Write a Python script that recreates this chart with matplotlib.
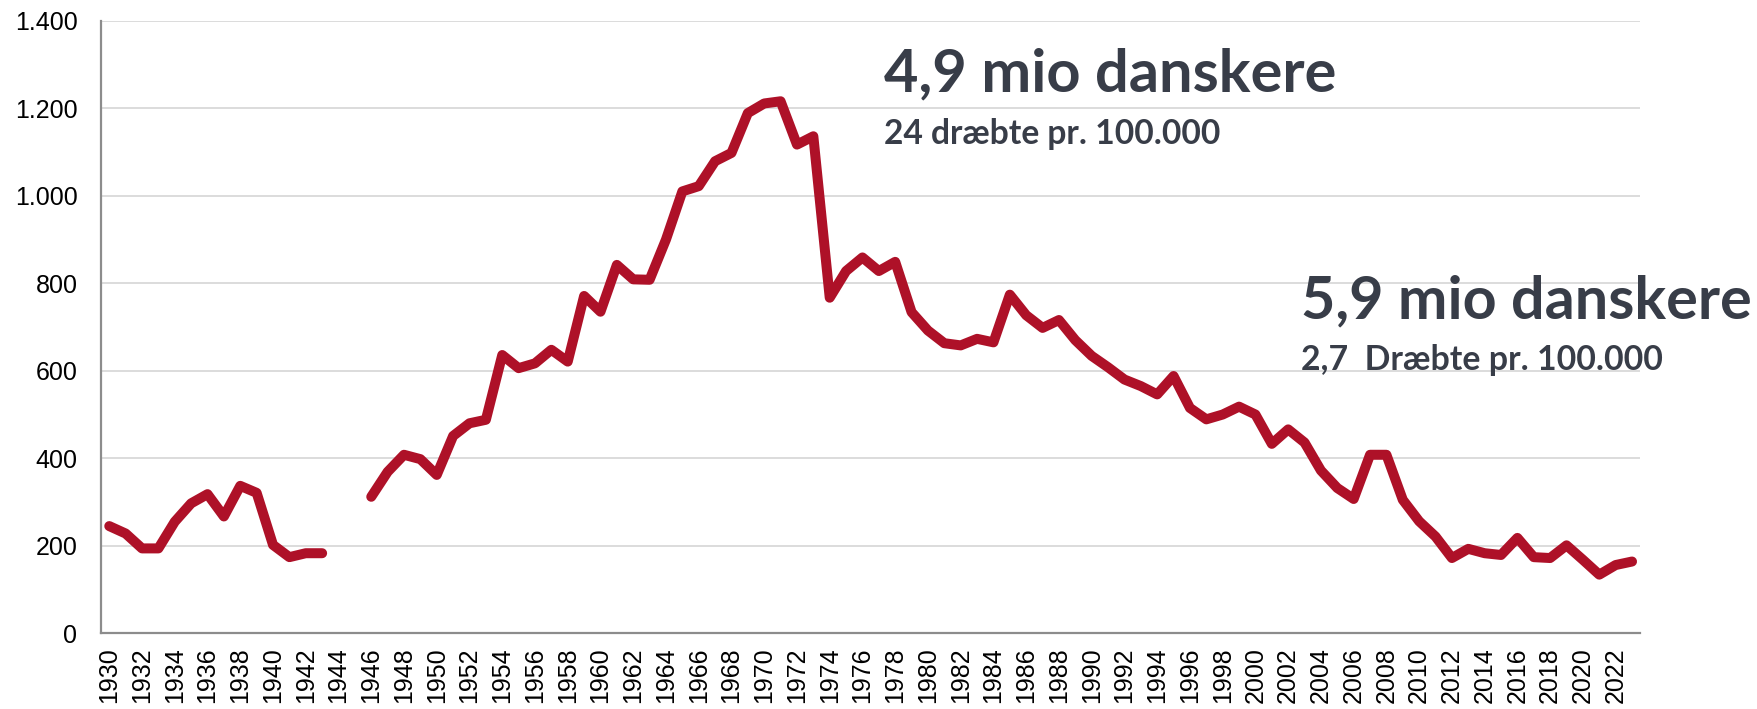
import numpy as np
import matplotlib
matplotlib.use("Agg")
import matplotlib.pyplot as plt
from matplotlib.ticker import FuncFormatter

# Dræbte i trafikken, 1930-2023 (ingen data 1944-1945)
years = np.arange(1930, 2024)
killed = [
    245, 228, 194, 194, 255, 297, 318, 267, 337, 321,   # 1930-1939
    202, 174, 183, 183, np.nan, np.nan, 312, 369, 408, 398,  # 1940-1949
    362, 451, 480, 488, 636, 606, 617, 648, 621, 771,   # 1950-1959
    735, 842, 809, 808, 900, 1010, 1022, 1079, 1098, 1189,  # 1960-1969
    1211, 1216, 1117, 1136, 767, 828, 859, 828, 849, 734,  # 1970-1979
    692, 663, 658, 673, 665, 774, 727, 698, 716, 670,   # 1980-1989
    634, 608, 580, 565, 546, 588, 515, 489, 500, 518,   # 1990-1999
    500, 433, 466, 436, 372, 332, 307, 408, 408, 305,   # 2000-2009
    256, 221, 172, 193, 183, 179, 218, 174, 172, 201,   # 2010-2019
    168, 134, 156, 164,                                 # 2020-2023
]
killed = np.array(killed, dtype=float)

yticks = [0, 200, 400, 600, 800, 1000, 1200, 1400]
xticks = np.arange(1930, 2023, 2)

line_color = "#ae1128"
text_color = "#383d48"

fig = plt.figure(figsize=(17.58, 7.09), dpi=100)
ax = fig.add_axes([0.0575, 0.1068, 0.8755, 0.8639])

ax.plot(years, killed, color=line_color, lw=7.2,
        solid_capstyle="round", solid_joinstyle="round")

ax.set_xlim(1929.5, 2023.5)
ax.set_ylim(0, 1400)
ax.set_yticks(yticks)
ax.yaxis.set_major_formatter(FuncFormatter(lambda v, p: f"{int(v):,}".replace(",", ".")))
ax.set_xticks(xticks)
ax.set_xticklabels([str(y) for y in xticks], rotation=90)

ax.tick_params(axis="both", length=0, labelsize=18, colors="black")
ax.tick_params(axis="y", pad=17)
ax.tick_params(axis="x", pad=10)
for lab in ax.get_xticklabels() + ax.get_yticklabels():
    lab.set_fontfamily("Liberation Sans")

ax.grid(axis="y", color="#d9d9d9", lw=1.3)
ax.set_axisbelow(True)
for s in ["top", "right"]:
    ax.spines[s].set_visible(False)
for s in ["left", "bottom"]:
    ax.spines[s].set_color("#8c8c8c")
    ax.spines[s].set_linewidth(1.6)

ax.text(1977.3, 1238, "4,9 mio danskere", fontfamily="Lato", fontweight="bold",
        fontsize=42.8, color=text_color, ha="left", va="baseline")
ax.text(1977.3, 1118, "24 dræbte pr. 100.000", fontfamily="Lato", fontweight="bold",
        fontsize=24.2, color=text_color, ha="left", va="baseline")
ax.text(2002.8, 720, "5,9 mio danskere", fontfamily="Lato", fontweight="bold",
        fontsize=42.7, color=text_color, ha="left", va="baseline", clip_on=False)
ax.text(2002.8, 602, "2,7  Dræbte pr. 100.000", fontfamily="Lato", fontweight="bold",
        fontsize=24.4, color=text_color, ha="left", va="baseline", clip_on=False)

fig.savefig("out.png", dpi=100)
plt.close(fig)
